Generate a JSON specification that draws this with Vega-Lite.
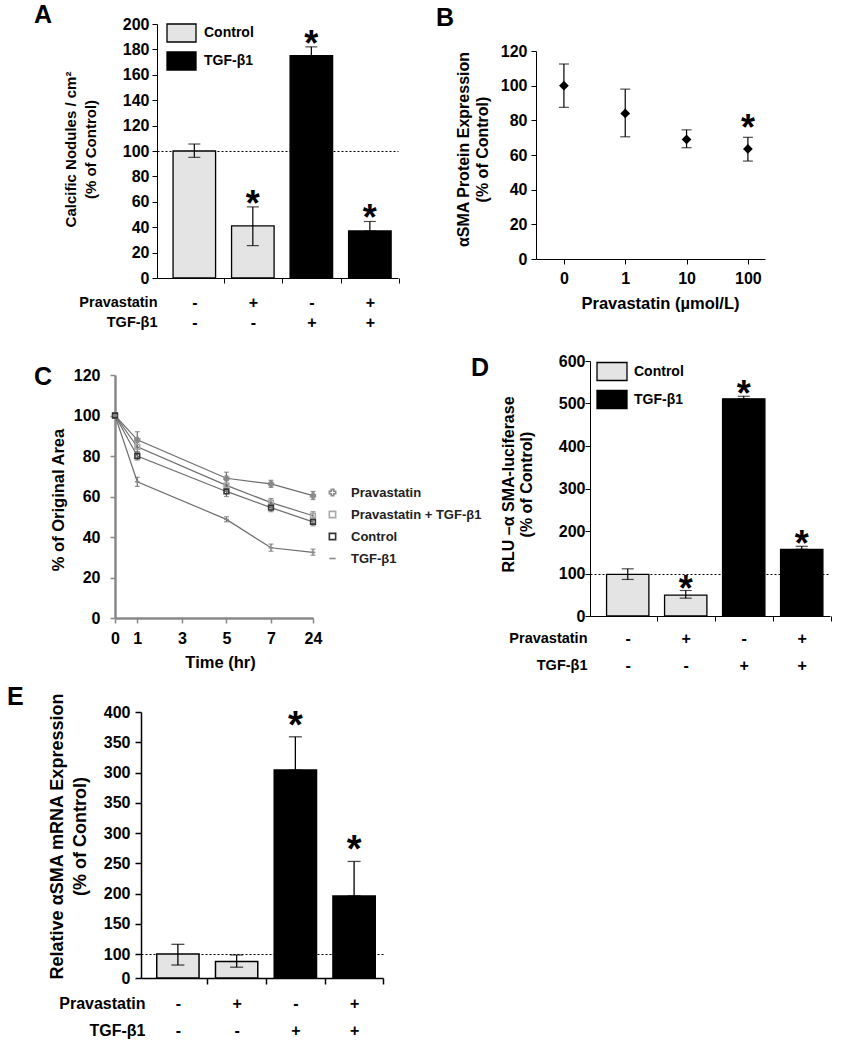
{
  "$schema": "https://vega.github.io/schema/vega-lite/v6.json",
  "padding": 0,
  "background": "white",
  "columns": 2,
  "spacing": 0,
  "bounds": "flush",
  "resolve": {
    "scale": {"x": "independent", "y": "independent", "color": "independent", "shape": "independent"},
    "legend": {"color": "independent", "shape": "independent"}
  },
  "config": {
    "font": "Liberation Sans",
    "view": {"stroke": null},
    "axis": {
      "labelFont": "Liberation Sans", "titleFont": "Liberation Sans",
      "labelFontWeight": "bold", "titleFontWeight": "bold",
      "labelColor": "#000", "titleColor": "#000",
      "domainColor": "#000", "tickColor": "#000",
      "labelFontSize": 16, "labelLimit": 1000, "titleLimit": 1000,
      "labelAngle": 0, "grid": false, "labelOverlap": false, "labelFlush": false
    },
    "legend": {"labelFont": "Liberation Sans", "labelFontWeight": "bold", "labelColor": "#000", "labelLimit": 1000},
    "title": {"font": "Liberation Sans", "fontWeight": "bold", "fontSize": 25, "color": "#000"}
  },
  "concat": [
    {
      "width": 421, "height": 350,
      "title": {"text": "A", "anchor": "start", "frame": "group", "offset": -39.5, "dx": 34, "baseline": "middle"},
      "data": {"values": [
        {"cond": "- -", "group": "Control", "val": 100, "lo": 95, "hi": 105.5, "star": ""},
        {"cond": "+ -", "group": "Control", "val": 41, "lo": 25.5, "hi": 56, "star": "*"},
        {"cond": "- +", "group": "TGF-β1", "val": 175, "lo": 175, "hi": 182, "star": "*"},
        {"cond": "+ +", "group": "TGF-β1", "val": 37, "lo": 37, "hi": 44.5, "star": "*"}
      ]},
      "layer": [
        {
          "mark": {"type": "bar", "stroke": "#000", "strokeWidth": 1.3},
          "encoding": {
            "x": {"field": "cond", "type": "nominal", "sort": null,
              "scale": {"domain": ["- -", "+ -", "- +", "+ +"], "range": [157, 398], "paddingInner": 0.273, "paddingOuter": 0.196, "align": 0.7},
              "axis": {"orient": "bottom", "offset": -72, "bandPosition": 1, "tickOffset": 8, "labelOffset": -8, "tickSize": 5, "labelOverlap": false,
                "labelExpr": "datum.value ? split(datum.value, ' ') : ''", "labelBaseline": "middle", "labelLineHeight": 20, "labelPadding": 19, "labelFontSize": 16,
                "title": ["Pravastatin", "TGF-β1"], "titleX": 157, "titleY": 24, "titleAlign": "right", "titleBaseline": "middle", "titleAngle": 0, "titleLineHeight": 20, "titleFontSize": 14.5}},
            "y": {"field": "val", "type": "quantitative",
              "scale": {"domain": [0, 200], "range": [278, 24], "nice": false},
              "axis": {"orient": "left", "offset": -157, "values": [0, 20, 40, 60, 80, 100, 120, 140, 160, 180, 200], "tickCount": 30, "tickSize": 5, "labelPadding": 3, "labelOverlap": false,
                "title": ["Calcific Nodules / cm²", "(% of Control)"], "titleX": -87, "titleY": 149, "titleBaseline": "middle", "titleAlign": "center", "titleAngle": -90, "titleLineHeight": 20, "titleFontSize": 15,
                "grid": true, "gridDash": [2, 2], "gridColor": "#000", "gridWidth": 1,
                "gridOpacity": {"condition": {"test": "datum.value === 100", "value": 1}, "value": 0}}},
            "color": {"field": "group", "type": "nominal",
              "scale": {"domain": ["Control", "TGF-β1"], "range": ["#e4e4e4", "#000000"]},
              "legend": {"orient": "none", "legendX": 166, "legendY": 17.5, "title": null, "symbolType": "M-1,-0.62H1V0.62H-1Z", "symbolSize": 841, "symbolStrokeColor": "#000", "symbolStrokeWidth": 1.3, "rowPadding": -3, "labelOffset": 7, "labelFontSize": 14}}
          }
        },
        {
          "mark": {"type": "rule", "color": "#000", "strokeWidth": 1.2},
          "encoding": {"x": {"field": "cond", "type": "nominal"}, "y": {"field": "lo", "type": "quantitative"}, "y2": {"field": "hi"}}
        },
        {
          "mark": {"type": "tick", "color": "#000", "size": 12, "thickness": 1.2},
          "encoding": {"x": {"field": "cond", "type": "nominal"}, "y": {"field": "hi", "type": "quantitative"}}
        },
        {
          "mark": {"type": "tick", "color": "#000", "size": 12, "thickness": 1.2},
          "encoding": {"x": {"field": "cond", "type": "nominal"}, "y": {"field": "lo", "type": "quantitative"}}
        },
        {
          "mark": {"type": "text", "fontSize": 36, "fontWeight": "bold", "baseline": "alphabetic", "dy": 9, "color": "#000"},
          "encoding": {"x": {"field": "cond", "type": "nominal"}, "y": {"field": "hi", "type": "quantitative"}, "text": {"field": "star"}}
        }
      ]
    },
    {
      "width": 421, "height": 350,
      "title": {"text": "B", "anchor": "start", "frame": "group", "offset": -42.5, "dx": 15, "baseline": "middle"},
      "data": {"values": [
        {"dose": "0", "val": 100, "lo": 87.5, "hi": 112.5, "star": ""},
        {"dose": "1", "val": 84, "lo": 70.5, "hi": 98, "star": ""},
        {"dose": "10", "val": 69, "lo": 64.2, "hi": 74.5, "star": ""},
        {"dose": "100", "val": 63.5, "lo": 56.5, "hi": 70.2, "star": "*"}
      ]},
      "layer": [
        {
          "mark": {"type": "rule", "color": "#000", "strokeWidth": 1.2},
          "encoding": {
            "x": {"field": "dose", "type": "ordinal", "sort": null,
              "scale": {"type": "point", "domain": ["0", "1", "10", "100"], "range": [115, 344], "padding": 0.367, "align": 0.62},
              "axis": {"orient": "bottom", "offset": -91, "tickSize": 5, "labelBaseline": "middle", "labelPadding": 14, "labelFontSize": 16, "labelOverlap": false,
                "title": "Pravastatin (µmol/L)", "titleX": 239, "titleY": 44, "titleAlign": "center", "titleBaseline": "middle", "titleAngle": 0, "titleFontSize": 16.5}},
            "y": {"field": "lo", "type": "quantitative",
              "scale": {"domain": [0, 120], "range": [259, 51], "nice": false},
              "axis": {"orient": "left", "offset": -115, "values": [0, 20, 40, 60, 80, 100, 120], "tickCount": 30, "tickSize": 5, "labelPadding": 4, "labelOverlap": false,
                "title": ["αSMA Protein Expression", "(% of Control)"], "titleX": -73, "titleY": 149, "titleBaseline": "middle", "titleAlign": "center", "titleAngle": -90, "titleLineHeight": 19, "titleFontSize": 16}},
            "y2": {"field": "hi"}
          }
        },
        {
          "mark": {"type": "tick", "color": "#000", "size": 10, "thickness": 1.2},
          "encoding": {"x": {"field": "dose", "type": "ordinal"}, "y": {"field": "hi", "type": "quantitative"}}
        },
        {
          "mark": {"type": "tick", "color": "#000", "size": 10, "thickness": 1.2},
          "encoding": {"x": {"field": "dose", "type": "ordinal"}, "y": {"field": "lo", "type": "quantitative"}}
        },
        {
          "mark": {"type": "point", "shape": "diamond", "filled": true, "size": 95, "color": "#000", "opacity": 1},
          "encoding": {"x": {"field": "dose", "type": "ordinal"}, "y": {"field": "val", "type": "quantitative"}}
        },
        {
          "mark": {"type": "text", "fontSize": 36, "fontWeight": "bold", "baseline": "alphabetic", "dy": 3, "color": "#000"},
          "encoding": {"x": {"field": "dose", "type": "ordinal"}, "y": {"field": "hi", "type": "quantitative"}, "text": {"field": "star"}}
        }
      ]
    },
    {
      "width": 421, "height": 350,
      "title": {"text": "C", "anchor": "start", "frame": "group", "offset": -51.5, "dx": 34, "baseline": "middle"},
      "data": {"values": [
        {"series": "Pravastatin", "t": 0, "val": 100, "lo": 100, "hi": 100},
        {"series": "Pravastatin", "t": 1, "val": 88, "lo": 84, "hi": 92},
        {"series": "Pravastatin", "t": 5, "val": 69, "lo": 66, "hi": 72},
        {"series": "Pravastatin", "t": 7, "val": 66.2, "lo": 64.5, "hi": 68},
        {"series": "Pravastatin", "t": 24, "val": 60.4, "lo": 58.5, "hi": 62.5},
        {"series": "Pravastatin + TGF-β1", "t": 0, "val": 100, "lo": 100, "hi": 100},
        {"series": "Pravastatin + TGF-β1", "t": 1, "val": 84.5, "lo": 82, "hi": 87},
        {"series": "Pravastatin + TGF-β1", "t": 5, "val": 65.5, "lo": 63, "hi": 68},
        {"series": "Pravastatin + TGF-β1", "t": 7, "val": 57, "lo": 55, "hi": 59},
        {"series": "Pravastatin + TGF-β1", "t": 24, "val": 50.5, "lo": 48.5, "hi": 52.5},
        {"series": "Control", "t": 0, "val": 100, "lo": 100, "hi": 100},
        {"series": "Control", "t": 1, "val": 80, "lo": 78, "hi": 82},
        {"series": "Control", "t": 5, "val": 62.5, "lo": 60, "hi": 65},
        {"series": "Control", "t": 7, "val": 54.5, "lo": 52.5, "hi": 56.5},
        {"series": "Control", "t": 24, "val": 47.5, "lo": 45.5, "hi": 49.5},
        {"series": "TGF-β1", "t": 0, "val": 100, "lo": 100, "hi": 100},
        {"series": "TGF-β1", "t": 1, "val": 67.3, "lo": 65, "hi": 69.5},
        {"series": "TGF-β1", "t": 5, "val": 48.7, "lo": 47.5, "hi": 50},
        {"series": "TGF-β1", "t": 7, "val": 34.7, "lo": 33, "hi": 36.5},
        {"series": "TGF-β1", "t": 24, "val": 32.4, "lo": 31, "hi": 34}
      ]},
      "layer": [
        {
          "mark": {"type": "line", "color": "#6e6e6e", "strokeWidth": 1.2},
          "encoding": {
            "x": {"field": "t", "type": "quantitative",
              "scale": {"domain": [0, 7, 24], "range": [115, 271, 313], "nice": false, "zero": false},
              "axis": {"orient": "bottom", "offset": -82, "values": [0, 1, 3, 5, 7, 24], "tickCount": 30, "tickSize": 5, "domainColor": "#888", "domainWidth": 2.5, "tickColor": "#888", "tickWidth": 1.5, "labelOverlap": false,
                "labelBaseline": "middle", "labelPadding": 15, "labelFontSize": 16,
                "title": "Time (hr)", "titleX": 220, "titleY": 44, "titleAlign": "center", "titleBaseline": "middle", "titleAngle": 0, "titleFontSize": 16.5}},
            "y": {"field": "val", "type": "quantitative",
              "scale": {"domain": [0, 120], "range": [268, 25], "nice": false},
              "axis": {"orient": "left", "offset": -115, "values": [0, 20, 40, 60, 80, 100, 120], "tickCount": 30, "tickSize": 5, "labelPadding": 10, "domainColor": "#888", "domainWidth": 2.5, "tickColor": "#888", "tickWidth": 1.5, "labelOverlap": false,
                "title": "% of Original Area", "titleX": -57, "titleY": 149.5, "titleBaseline": "middle", "titleAlign": "center", "titleAngle": -90, "titleFontSize": 16.5}},
            "detail": {"field": "series", "type": "nominal"}
          }
        },
        {
          "mark": {"type": "rule", "color": "#6e6e6e", "strokeWidth": 1.2},
          "encoding": {"x": {"field": "t", "type": "quantitative"}, "y": {"field": "lo", "type": "quantitative"}, "y2": {"field": "hi"}}
        },
        {
          "mark": {"type": "tick", "orient": "horizontal", "color": "#6e6e6e", "size": 5, "thickness": 1.2},
          "encoding": {"x": {"field": "t", "type": "quantitative"}, "y": {"field": "hi", "type": "quantitative"}}
        },
        {
          "mark": {"type": "tick", "orient": "horizontal", "color": "#6e6e6e", "size": 5, "thickness": 1.2},
          "encoding": {"x": {"field": "t", "type": "quantitative"}, "y": {"field": "lo", "type": "quantitative"}}
        },
        {
          "mark": {"type": "point", "filled": false, "size": 22, "strokeWidth": 1.6, "opacity": 1},
          "encoding": {
            "x": {"field": "t", "type": "quantitative"},
            "y": {"field": "val", "type": "quantitative"},
            "color": {"field": "series", "type": "nominal",
              "scale": {"domain": ["Pravastatin", "Pravastatin + TGF-β1", "Control", "TGF-β1"], "range": ["#8a8a8a", "#a8a8a8", "#333333", "#8a8a8a"]},
              "legend": {"orient": "none", "legendX": 326, "legendY": 136, "title": null, "symbolSize": 40, "symbolStrokeWidth": 1.6, "labelFontSize": 13, "labelOffset": 12, "rowPadding": 8, "labelColor": "#222"}},
            "shape": {"field": "series", "type": "nominal",
              "scale": {"domain": ["Pravastatin", "Pravastatin + TGF-β1", "Control", "TGF-β1"], "range": ["cross", "square", "square", "stroke"]},
              "legend": {"orient": "none", "legendX": 326, "legendY": 136, "title": null, "symbolSize": 40, "symbolStrokeWidth": 1.6, "labelFontSize": 13, "labelOffset": 12, "rowPadding": 8, "labelColor": "#222"}}
          }
        }
      ]
    },
    {
      "width": 421, "height": 350,
      "title": {"text": "D", "anchor": "start", "frame": "group", "offset": -42.5, "dx": 50, "baseline": "middle"},
      "data": {"values": [
        {"cond": "- -", "group": "Control", "val": 98, "lo": 86, "hi": 111, "star": ""},
        {"cond": "+ -", "group": "Control", "val": 49, "lo": 42, "hi": 60, "star": "*"},
        {"cond": "- +", "group": "TGF-β1", "val": 511, "lo": 511, "hi": 517, "star": "*"},
        {"cond": "+ +", "group": "TGF-β1", "val": 157, "lo": 157, "hi": 164, "star": "*"}
      ]},
      "layer": [
        {
          "mark": {"type": "bar", "stroke": "#000", "strokeWidth": 1.3},
          "encoding": {
            "x": {"field": "cond", "type": "nominal", "sort": null,
              "scale": {"domain": ["- -", "+ -", "- +", "+ +"], "range": [169, 409], "paddingInner": 0.27, "paddingOuter": 0.204, "align": 0.7},
              "axis": {"orient": "bottom", "offset": -84, "bandPosition": 1, "tickOffset": 7.8, "labelOffset": -7.8, "tickSize": 5, "labelOverlap": false,
                "labelExpr": "datum.value ? split(datum.value, ' ') : ''", "labelBaseline": "middle", "labelLineHeight": 27, "labelPadding": 17, "labelFontSize": 16,
                "title": ["Pravastatin", "TGF-β1"], "titleX": 166, "titleY": 22, "titleAlign": "right", "titleBaseline": "middle", "titleAngle": 0, "titleLineHeight": 27, "titleFontSize": 14.5}},
            "y": {"field": "val", "type": "quantitative",
              "scale": {"domain": [0, 600], "range": [266, 11], "nice": false},
              "axis": {"orient": "left", "offset": -169, "values": [0, 100, 200, 300, 400, 500, 600], "tickCount": 30, "tickSize": 5, "labelPadding": 0, "labelOverlap": false,
                "title": ["RLU –α SMA-luciferase", "(% of Control)"], "titleX": -82, "titleY": 134, "titleBaseline": "middle", "titleAlign": "center", "titleAngle": -90, "titleLineHeight": 18, "titleFontSize": 16,
                "grid": true, "gridDash": [2, 2], "gridColor": "#000", "gridWidth": 1,
                "gridOpacity": {"condition": {"test": "datum.value === 100", "value": 1}, "value": 0}}},
            "color": {"field": "group", "type": "nominal",
              "scale": {"domain": ["Control", "TGF-β1"], "range": ["#e4e4e4", "#000000"]},
              "legend": {"orient": "none", "legendX": 175, "legendY": 5.5, "title": null, "symbolType": "M-1,-0.6H1V0.6H-1Z", "symbolSize": 900, "symbolStrokeColor": "#000", "symbolStrokeWidth": 1.3, "rowPadding": -6, "labelOffset": 6, "labelFontSize": 14}}
          }
        },
        {
          "mark": {"type": "rule", "color": "#000", "strokeWidth": 1.2},
          "encoding": {"x": {"field": "cond", "type": "nominal"}, "y": {"field": "lo", "type": "quantitative"}, "y2": {"field": "hi"}}
        },
        {
          "mark": {"type": "tick", "color": "#000", "size": 12, "thickness": 1.2},
          "encoding": {"x": {"field": "cond", "type": "nominal"}, "y": {"field": "hi", "type": "quantitative"}}
        },
        {
          "mark": {"type": "tick", "color": "#000", "size": 12, "thickness": 1.2},
          "encoding": {"x": {"field": "cond", "type": "nominal"}, "y": {"field": "lo", "type": "quantitative"}}
        },
        {
          "mark": {"type": "text", "fontSize": 36, "fontWeight": "bold", "baseline": "alphabetic", "dy": 10, "color": "#000"},
          "encoding": {"x": {"field": "cond", "type": "nominal"}, "y": {"field": "hi", "type": "quantitative"}, "text": {"field": "star"}}
        }
      ]
    },
    {
      "width": 421, "height": 350,
      "title": {"text": "E", "anchor": "start", "frame": "group", "offset": -29.5, "dx": 7, "baseline": "middle"},
      "data": {"values": [
        {"cond": "- -", "group": "Control", "val": 100, "lo": 54, "hi": 116, "star": ""},
        {"cond": "+ -", "group": "Control", "val": 69, "lo": 45, "hi": 96, "star": ""},
        {"cond": "- +", "group": "TGF-β1", "val": 404, "lo": 404, "hi": 459, "star": "*"},
        {"cond": "+ +", "group": "TGF-β1", "val": 196, "lo": 196, "hi": 253, "star": "*"}
      ]},
      "layer": [
        {
          "mark": {"type": "bar", "stroke": "#000", "strokeWidth": 1.5},
          "encoding": {
            "x": {"field": "cond", "type": "nominal", "sort": null,
              "scale": {"domain": ["- -", "+ -", "- +", "+ +"], "range": [141, 383], "paddingInner": 0.28, "paddingOuter": 0.2, "align": 0.67},
              "axis": {"orient": "bottom", "offset": -72, "bandPosition": 1, "tickOffset": 8.2, "labelOffset": -8.2, "tickSize": 6, "domainWidth": 1.5, "tickWidth": 1.5, "labelOverlap": false,
                "labelExpr": "datum.value ? split(datum.value, ' ') : ''", "labelBaseline": "middle", "labelLineHeight": 27, "labelPadding": 19, "labelFontSize": 16,
                "title": ["Pravastatin", "TGF-β1"], "titleX": 145, "titleY": 25, "titleAlign": "right", "titleBaseline": "middle", "titleAngle": 0, "titleLineHeight": 27, "titleFontSize": 16}},
            "y": {"field": "val", "type": "quantitative",
              "scale": {"domain": [0, 100, 500], "range": [278, 254, 12], "nice": false, "zero": false},
              "axis": {"orient": "left", "offset": -141, "values": [0, 100, 150, 200, 250, 300, 350, 400, 450, 500], "tickCount": 30, "tickSize": 6, "labelPadding": 5, "domainWidth": 1.5, "tickWidth": 1.5, "labelOverlap": false,
                "labelExpr": "datum.value == 400 ? '300' : datum.value == 450 ? '350' : datum.value == 500 ? '400' : datum.label",
                "title": ["Relative αSMA mRNA Expression", "(% of Control)"], "titleX": -84, "titleY": 136, "titleBaseline": "middle", "titleAlign": "center", "titleAngle": -90, "titleLineHeight": 23, "titleFontSize": 18,
                "grid": true, "gridDash": [2, 2], "gridColor": "#000", "gridWidth": 1.2,
                "gridOpacity": {"condition": {"test": "datum.value === 100", "value": 1}, "value": 0}}},
            "color": {"field": "group", "type": "nominal",
              "scale": {"domain": ["Control", "TGF-β1"], "range": ["#e4e4e4", "#000000"]},
              "legend": null}
          }
        },
        {
          "mark": {"type": "rule", "color": "#000", "strokeWidth": 1.3},
          "encoding": {"x": {"field": "cond", "type": "nominal"}, "y": {"field": "lo", "type": "quantitative"}, "y2": {"field": "hi"}}
        },
        {
          "mark": {"type": "tick", "color": "#000", "size": 13, "thickness": 1.3},
          "encoding": {"x": {"field": "cond", "type": "nominal"}, "y": {"field": "hi", "type": "quantitative"}}
        },
        {
          "mark": {"type": "tick", "color": "#000", "size": 13, "thickness": 1.3},
          "encoding": {"x": {"field": "cond", "type": "nominal"}, "y": {"field": "lo", "type": "quantitative"}}
        },
        {
          "mark": {"type": "text", "fontSize": 38, "fontWeight": "bold", "baseline": "alphabetic", "dy": 1, "color": "#000"},
          "encoding": {"x": {"field": "cond", "type": "nominal"}, "y": {"field": "hi", "type": "quantitative"}, "text": {"field": "star"}}
        }
      ]
    }
  ]
}
